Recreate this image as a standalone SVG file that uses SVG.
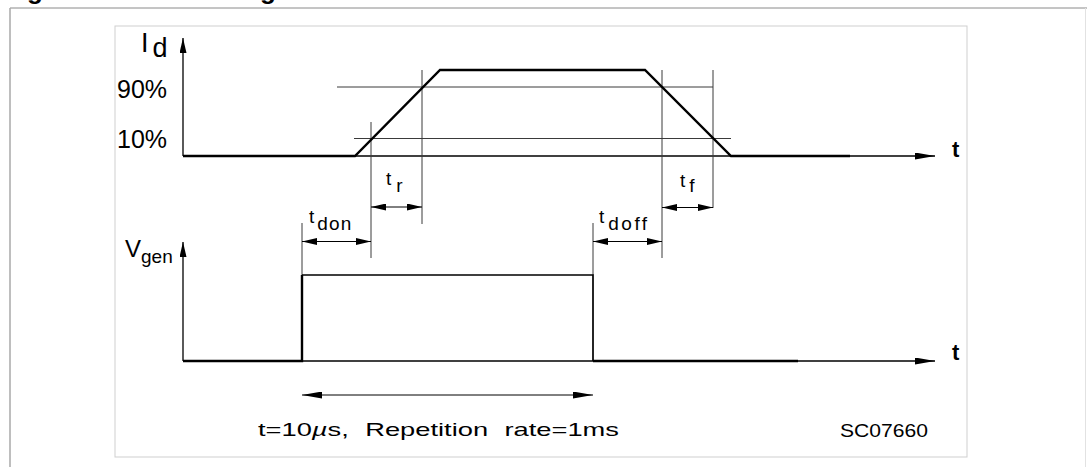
<svg xmlns="http://www.w3.org/2000/svg" width="1087" height="467" viewBox="0 0 1087 467">
<style>
  text { font-family: "Liberation Sans", Arial, sans-serif; fill: #000; }
  .lbl { font-size: 25px; }
  .sm { font-size: 19px; }
  .axt { font-size: 22px; font-weight: bold; }
  .guide { stroke: #3a3a3a; stroke-width: 1; fill: none; }
  .axis { stroke: #000; stroke-width: 1.3; fill: none; }
  .wave { stroke: #000; stroke-width: 2.4; fill: none; stroke-linejoin: miter; }
  .dim { stroke: #000; stroke-width: 1; fill: none; }
</style>
<defs>
  <marker id="ah" viewBox="0 0 15 7" markerUnits="userSpaceOnUse" markerWidth="15" markerHeight="7" refX="15" refY="3.5" orient="auto-start-reverse">
    <path d="M0,0 L15,3.5 L0,7 z" fill="#000"/>
  </marker>
  <marker id="axh" viewBox="0 0 20 7" markerUnits="userSpaceOnUse" markerWidth="20" markerHeight="7" refX="20" refY="3.5" orient="auto-start-reverse">
    <path d="M0,0 L20,3.5 L0,7 z" fill="#000"/>
  </marker>
</defs>
<rect width="1087" height="467" fill="#fff"/>

<g id="frame">
  <line x1="10" y1="8" x2="1087" y2="8" stroke="#8a8a8a" stroke-width="1"/>
  <line x1="10" y1="8" x2="10" y2="467" stroke="#a8a8a8" stroke-width="1.5"/>
  <line x1="1085.5" y1="8" x2="1085.5" y2="467" stroke="#e2e2e2" stroke-width="1"/>
  <rect x="115" y="26" width="852" height="431" fill="none" stroke="#cfcfcf" stroke-width="1"/>
</g>

<g id="title">
  <text x="4" y="-1" style="font-size:26px;font-weight:bold" fill="#222">Figure 2.</text>
  <text x="153" y="-1" style="font-size:26px;font-weight:bold" fill="#222">Switching waveforms</text>
</g>

<g id="connectors">
  <!-- Id axes -->
  <line class="axis" x1="183" y1="156" x2="183" y2="38" marker-end="url(#ah)"/>
  <line class="axis" x1="183" y1="156" x2="935" y2="156" marker-end="url(#axh)"/>
  <!-- guide lines top -->
  <line class="guide" x1="337" y1="87" x2="713" y2="87"/>
  <line class="guide" x1="354" y1="138.5" x2="731" y2="138.5"/>
  <line class="guide" x1="371" y1="122" x2="371" y2="258"/>
  <line class="guide" x1="422" y1="70" x2="422" y2="224"/>
  <line class="guide" x1="662" y1="70" x2="662" y2="258"/>
  <line class="guide" x1="713" y1="70" x2="713" y2="208"/>
  <!-- Id waveform -->
  <polyline class="wave" points="183,156 355,156 440,70 645,70 731,156 850,156"/>
  <!-- Vgen axes -->
  <line class="axis" x1="183" y1="361" x2="183" y2="242" marker-end="url(#ah)"/>
  <line class="axis" x1="183" y1="361" x2="935" y2="361" marker-end="url(#axh)"/>
  <!-- extension lines for tdon / tdoff -->
  <line class="guide" x1="302" y1="223" x2="302" y2="275"/>
  <line class="guide" x1="593" y1="223" x2="593" y2="275"/>
  <!-- Vgen waveform -->
  <polyline class="wave" points="183,361 302,361 302,275"/>
  <polyline fill="none" stroke="#000" stroke-width="1.7" points="302,275 593,275 593,361"/>
  <line class="wave" x1="593" y1="361" x2="798" y2="361"/>
  <!-- dimension arrows -->
  <line class="dim" x1="371" y1="207" x2="422" y2="207" marker-start="url(#ah)" marker-end="url(#ah)"/>
  <line class="dim" x1="662" y1="207.5" x2="713" y2="207.5" marker-start="url(#ah)" marker-end="url(#ah)"/>
  <line class="dim" x1="302" y1="241.5" x2="371" y2="241.5" marker-start="url(#ah)" marker-end="url(#ah)"/>
  <line class="dim" x1="593" y1="241.5" x2="662" y2="241.5" marker-start="url(#ah)" marker-end="url(#ah)"/>
  <line class="dim" x1="302" y1="395" x2="593" y2="395" marker-start="url(#axh)" marker-end="url(#axh)"/>
</g>

<g id="labels">
  <g id="label-id"><text class="lbl" x="141" y="52" style="font-size:27px">I<tspan dx="4" dy="5">d</tspan></text></g>
  <g id="label-90"><text class="lbl" x="117" y="98">90%</text></g>
  <g id="label-10"><text class="lbl" x="117" y="148">10%</text></g>
  <g id="label-t1"><text class="axt" x="952" y="157">t</text></g>
  <g id="label-tr"><text class="sm" x="386" y="185">t<tspan dx="5" dy="7">r</tspan></text></g>
  <g id="label-tf"><text class="sm" x="680" y="187">t<tspan dx="4" dy="5">f</tspan></text></g>
  <g id="label-tdon"><text class="sm" x="309" y="223">t<tspan dx="3" dy="7" letter-spacing="1.2">don</tspan></text></g>
  <g id="label-tdoff"><text class="sm" x="599" y="223">t<tspan dx="4" dy="7" letter-spacing="2.5">doff</tspan></text></g>
  <g id="label-vgen"><text class="lbl" x="125" y="257" style="font-size:24px">V<tspan dx="0" dy="6" style="font-size:19px">gen</tspan></text></g>
  <g id="label-t2"><text class="axt" x="952" y="360">t</text></g>
  <g id="caption"><text x="258" y="436" style="font-size:18.5px" word-spacing="6" textLength="361" lengthAdjust="spacingAndGlyphs">t=10<tspan font-style="italic">µ</tspan>s, Repetition rate=1ms</text></g>
  <g id="code"><text x="840" y="437" style="font-size:18px" textLength="88" lengthAdjust="spacingAndGlyphs">SC07660</text></g>
</g>
</svg>
